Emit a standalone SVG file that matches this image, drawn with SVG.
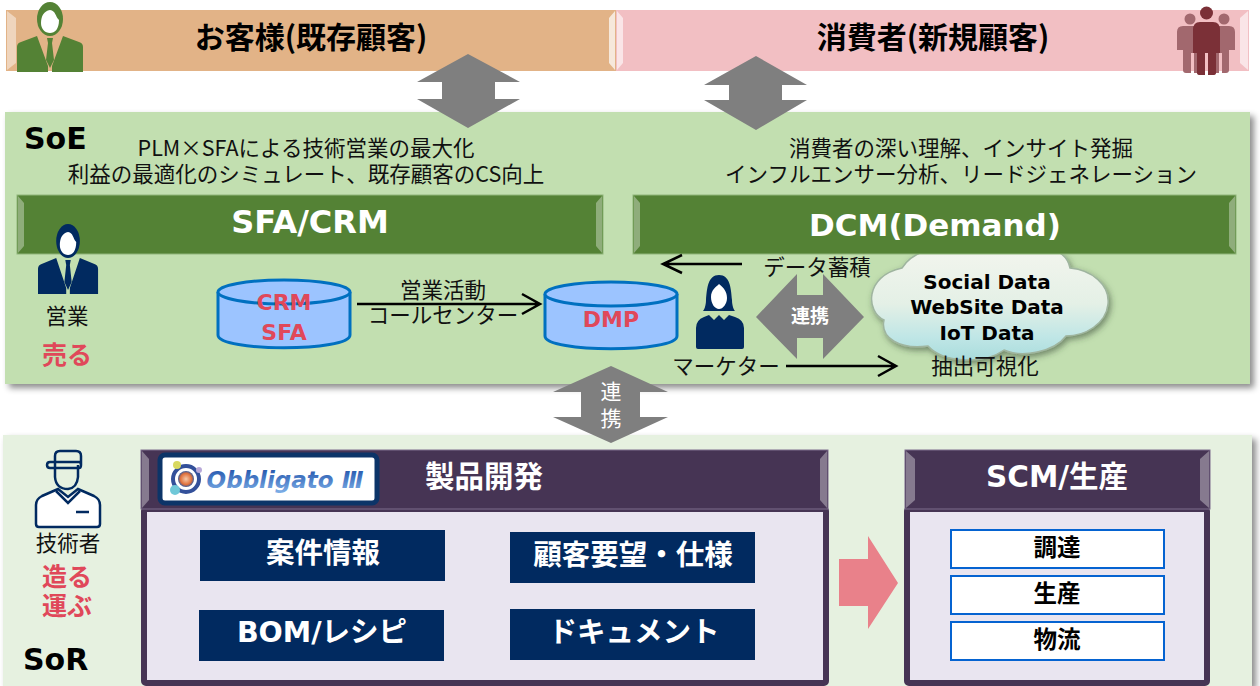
<svg xmlns="http://www.w3.org/2000/svg" xmlns:xlink="http://www.w3.org/1999/xlink" width="1260" height="686" viewBox="0 0 1260 686">
<style>
text{font-family:"DejaVu Sans","Noto Sans CJK JP",sans-serif;text-anchor:middle}
.j{font-family:"Noto Sans CJK JP","Noto Sans",sans-serif;font-size:21.500px;fill:#111}
.jb{font-family:"Noto Sans CJK JP",sans-serif;font-weight:700}
.h{font-weight:700;fill:#fff}
.red{fill:#e0485a;font-weight:700;font-family:"DejaVu Sans","Noto Sans CJK JP",sans-serif}
.big{font-size:30px;font-weight:700;text-anchor:start;fill:#000}
.gray{fill:#7f7f7f}
.cyl{fill:#9cc4ff;stroke:#0070c0;stroke-width:3}
.navy{fill:#012a60}
.wb{fill:#fff;stroke:#0563d1;stroke-width:2}
.line{fill:none;stroke:#000;stroke-width:2.500}
.hl{fill:#fff;opacity:.35}
.cl{font-size:20px;font-weight:700;fill:#000}
</style>
<defs>
<filter id="sh" x="-2%" y="-4%" width="104%" height="108%"><feDropShadow dx="4" dy="4" stdDeviation="3" flood-color="#000" flood-opacity=".45"/></filter>
<filter id="csh" x="-10%" y="-10%" width="120%" height="120%"><feDropShadow dx="2" dy="3" stdDeviation="3" flood-color="#304030" flood-opacity=".55"/></filter>
<linearGradient id="cg" x1="0" y1="0" x2="0" y2="1"><stop offset="0" stop-color="#f3f5ee"/><stop offset=".5" stop-color="#e4f0e6"/><stop offset=".8" stop-color="#bfe6e6"/><stop offset="1" stop-color="#a9dcdc"/></linearGradient>
<radialGradient id="ball"><stop offset="0" stop-color="#f6c9a8"/><stop offset=".7" stop-color="#e0703a"/><stop offset="1" stop-color="#3a5a9a"/></radialGradient>
<linearGradient id="ob" x1="0" y1="0" x2="0" y2="1"><stop offset="0" stop-color="#1c4fa8"/><stop offset="1" stop-color="#7fb0e8"/></linearGradient>
<g id="suit">
<ellipse cx="33" cy="17" rx="13" ry="17"/>
<path d="M0 70V45Q0 41 4 40L20 34L31 64V70Z"/>
<path d="M66 70V45Q66 41 62 40L46 34L35 64V70Z"/>
<path d="M30 36H36L35 41L37 58L33 66L29 58L31 41Z"/>
<path fill="#fff" d="M24 21C24 14 27 9 33 8C39 9 38 14 42 18C42 27 38 31 33 31C28 31 24 27 24 21Z"/>
</g>
</defs>

<g id="panel-soe"><rect x="5" y="112" width="1245" height="272" fill="#c2dfb0" filter="url(#sh)"/></g>
<g id="panel-sor"><rect x="3" y="435" width="1249" height="251" fill="#e6f1e0" filter="url(#sh)"/></g>

<g id="customer-bar">
<rect x="6" y="10" width="610" height="61" fill="#e2b387"/>
<path d="M7 11L16 18V63L7 70Z" fill="#fff" opacity=".45"/><path d="M609 18L615 11V70L609 63Z" fill="#fff" opacity=".7"/>
<text x="311" y="48" font-size="30" class="jb" fill="#000">お客様(既存顧客)</text>
<use xlink:href="#suit" href="#suit" fill="#548235" transform="translate(17 2)"/>
</g>
<g id="consumer-bar">
<rect x="616" y="10" width="633" height="61" fill="#f2bfc3"/>
<path d="M617 11L623 18V63L617 70Z" fill="#fff" opacity=".6"/><path d="M1240 18L1248 11V70L1240 63Z" fill="#fff" opacity=".6"/>
<text x="933" y="48" font-size="30" class="jb" fill="#000">消費者(新規顧客)</text>
<g fill="#a2686e">
<circle cx="1190" cy="19" r="5.500"/><circle cx="1224" cy="19" r="5.500"/>
<path d="M1177 32Q1177 26 1183 26H1198V73H1194V53H1191V73H1186Q1183 73 1183 70V50H1177Z"/>
<path d="M1235 32Q1235 26 1229 26H1214V73H1219V53H1222V73H1226Q1229 73 1229 70V50H1235Z"/>
</g>
<g fill="#7b3037">
<circle cx="1206.500" cy="13" r="6.500"/>
<path d="M1193 30Q1193 22 1200 22H1213Q1220 22 1220 30V53H1216V73Q1216 75 1213 75H1208V53H1205V75H1200Q1197 75 1197 73V53H1193Z"/>
</g>
</g>

<g id="arrow-customer" class="gray"><path d="M468 54L520 82H495V99H520L468 128L417 99H442V82H417Z"/></g>
<g id="arrow-consumer" class="gray"><path d="M756 56L807 85H782V100H807L756 130L704 100H729V85H704Z"/></g>

<g id="soe-labels">
<text x="24" y="149" class="big">SoE</text>
<text x="306" y="156" class="j">PLM×SFAによる技術営業の最大化</text>
<text x="306" y="182" class="j">利益の最適化のシミュレート、既存顧客のCS向上</text>
<text x="961" y="156" class="j">消費者の深い理解、インサイト発掘</text>
<text x="961" y="182" class="j">インフルエンサー分析、リードジェネレーション</text>
</g>

<g id="cloud"><path d="M902 268C912 252 935 246 950 248L1045 248C1060 250 1068 258 1070 268C1092 270 1110 285 1108 304C1106 324 1085 336 1066 336C1054 352 1022 358 1004 350C985 364 945 364 928 346C900 350 880 338 884 320C866 312 864 276 902 268Z" fill="url(#cg)" stroke="#9fb59f" stroke-width="1.500" filter="url(#csh)"/>
<text x="987" y="289" class="cl">Social Data</text>
<text x="987" y="314" class="cl">WebSite Data</text>
<text x="987" y="340" class="cl">IoT Data</text>
</g>

<g id="sfa-bar">
<rect x="17" y="195" width="586" height="59" fill="#548235" stroke="#8fb57a" stroke-width="1"/>
<path class="hl" d="M18 196L24 203V246L18 253Z"/><path class="hl" d="M596 203L602 196V253L596 246Z"/>
<text x="310" y="233" font-size="32" class="h">SFA/CRM</text>
</g>
<g id="dcm-bar">
<rect x="633" y="195" width="603" height="59" fill="#548235" stroke="#8fb57a" stroke-width="1"/>
<path class="hl" d="M634 196L640 203V246L634 253Z"/><path class="hl" d="M1229 203L1235 196V253L1229 246Z"/>
<text x="935" y="236" font-size="31" class="h">DCM(Demand)</text>
</g>

<g id="sales"><use xlink:href="#suit" href="#suit" fill="#012a60" transform="translate(38 224) scale(.91 1)"/>
<text x="67" y="324" class="j">営業</text>
<text x="67" y="364" font-size="25" class="red">売る</text></g>

<g id="db-crm">
<path class="cyl" d="M218 292V335C218 352 350 352 350 335V292"/>
<ellipse class="cyl" cx="284" cy="292" rx="66" ry="12"/>
<text x="284" y="310" font-size="22" class="red">CRM</text>
<text x="284" y="340" font-size="22" class="red">SFA</text>
</g>
<g id="db-dmp">
<path class="cyl" d="M545 294V336C545 353 677 353 677 336V294"/>
<ellipse class="cyl" cx="611" cy="294" rx="66" ry="12"/>
<text x="611" y="327" font-size="22" class="red">DMP</text>
</g>

<g id="connectors">
<path class="line" d="M357 304H539M522 294L540 304L522 314"/>
<path class="line" d="M742 264H663M682 255L663 264L682 273"/>
<path class="line" d="M786 366H896M878 356L896 366L878 376"/>
</g>
<g id="connector-labels">
<text x="443" y="298" class="j">営業活動</text>
<text x="443" y="323" class="j">コールセンター</text>
<text x="817" y="275" class="j">データ蓄積</text>
<text x="726" y="374" class="j">マーケター</text>
<text x="985" y="374" class="j">抽出可視化</text>
</g>

<g id="marketer" fill="#012a60">
<path d="M719 275C708 275 707 288 706 300C706 306 704 310 703 311H735C734 310 732 306 732 300C731 288 730 275 719 275Z"/>
<path fill="#fff" d="M711 297C711 290 716 287 719 284C724 288 727 292 727 298C727 304 723 309 719 309C715 309 711 304 711 297Z"/>
<path d="M696 328Q696 320 704 317L709 315L714 320L719 315L724 320L729 315L735 317Q744 320 744 328V347Q744 349 742 349H698Q696 349 696 347Z"/>
</g>

<g id="arrow-link-h"><path class="gray" d="M756 317L797 274V295H823V274L864 317L823 359V338H797V359Z"/>
<text x="810" y="323" font-size="19" class="h">連携</text></g>

<g id="arrow-link-v"><path class="gray" d="M611 366L668 392H640V417H668L611 443L553 417H581V392H553Z"/>
<text x="611" y="399" font-size="21" style="fill:#fff;font-family:'Noto Sans CJK JP',sans-serif">連</text>
<text x="611" y="426" font-size="21" style="fill:#fff;font-family:'Noto Sans CJK JP',sans-serif">携</text></g>

<g id="sor-labels"><text x="23" y="670" class="big">SoR</text></g>
<g id="engineer">
<path d="M36 524V505Q36 499 42 496L58 489L68 497L78 489L94 496Q100 499 100 505V524Q100 527 97 527H39Q36 527 36 524Z" fill="#fff" stroke="#012a60" stroke-width="2.500"/>
<path d="M56 491L68 503L80 491M76 512H89" fill="none" stroke="#012a60" stroke-width="2.500"/>
<path d="M55 465V477Q56 489 68 489Q77 488 78 477V465" fill="none" stroke="#012a60" stroke-width="2.500"/>
<path d="M55 465V456Q55 451 60 451H76Q81 451 81 456V465M47 465Q47 462 50 462H79Q81 462 81 465Q81 468 79 468H50Q47 468 47 465Z" fill="none" stroke="#012a60" stroke-width="2.500"/>
<text x="68" y="551" class="j">技術者</text>
<text x="67" y="586" font-size="25" class="red">造る</text>
<text x="67" y="615" font-size="25" class="red">運ぶ</text>
</g>

<g id="dev">
<rect x="144" y="509" width="682" height="174" fill="#e9e5f0" stroke="#463454" stroke-width="6" rx="2"/>
<rect x="141" y="450" width="687" height="59" fill="#463454" stroke="#7d6c8c" stroke-width="1"/>
<path class="hl" d="M142 451L149 459V500L142 508Z"/><path class="hl" d="M820 459L827 451V508L820 500Z"/>
<text x="484" y="487" font-size="29.500" class="h">製品開発</text>
<g id="logo">
<rect x="160" y="455" width="217" height="48" rx="5" fill="#fff" stroke="#0c3468" stroke-width="5"/>
<circle cx="186" cy="479" r="13" fill="none" stroke="#33509a" stroke-width="4"/>
<circle cx="186" cy="479" r="8" fill="url(#ball)"/>
<circle cx="177" cy="465" r="4" fill="#d8d860"/><circle cx="175" cy="490" r="5" fill="#70c8d8"/><circle cx="199" cy="470" r="3" fill="#b8a8d8"/>
<text x="285" y="488" font-size="23" font-weight="700" font-style="italic" fill="url(#ob)" style="font-family:'DejaVu Sans',sans-serif">Obbligato Ⅲ</text>
</g>
</g>
<g id="n1"><rect class="navy" x="200" y="530" width="245" height="51"/><text x="323" y="563" font-size="28.500" class="h">案件情報</text></g>
<g id="n2"><rect class="navy" x="510" y="532" width="245" height="51"/><text x="633" y="565" font-size="28.500" class="h">顧客要望・仕様</text></g>
<g id="n3"><rect class="navy" x="199" y="610" width="245" height="51"/><text x="322" y="642" font-size="28.500" class="h">BOM/レシピ</text></g>
<g id="n4"><rect class="navy" x="510" y="609" width="245" height="51"/><text x="634" y="642" font-size="28.500" class="h">ドキュメント</text></g>

<g id="arrow-pink"><path d="M839 559H868V536L898 583L868 629V606H839Z" fill="#e9818a"/></g>

<g id="scm">
<rect x="907" y="509" width="300" height="174" rx="2" fill="#e9e5f0" stroke="#463454" stroke-width="6"/>
<rect x="905" y="450" width="305" height="59" fill="#463454" stroke="#7d6c8c" stroke-width="1"/>
<path class="hl" d="M906 451L915 459V500L906 508Z"/><path class="hl" d="M1200 459L1209 451V508L1200 500Z"/>
<text x="1057" y="487" font-size="29.500" class="h">SCM/生産</text>
</g>
<g id="s1"><rect class="wb" x="951" y="530" width="213" height="38"/><text x="1057" y="556" font-size="23.500" font-weight="700" fill="#000">調達</text></g>
<g id="s2"><rect class="wb" x="951" y="576" width="213" height="38"/><text x="1057" y="602" font-size="23.500" font-weight="700" fill="#000">生産</text></g>
<g id="s3"><rect class="wb" x="951" y="622" width="213" height="38"/><text x="1057" y="648" font-size="23.500" font-weight="700" fill="#000">物流</text></g>
</svg>
